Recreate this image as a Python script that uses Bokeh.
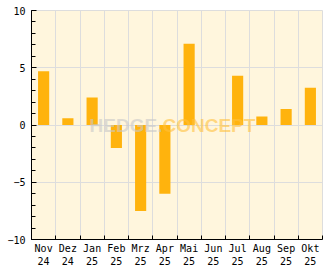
from bokeh.plotting import figure
from bokeh.models import FixedTicker, Range1d, ColumnDataSource
from bokeh.embed import file_html
from bokeh.resources import INLINE
from bokeh.core.properties import value

months = ["Nov\n24", "Dez\n24", "Jan\n25", "Feb\n25", "Mrz\n25", "Apr\n25",
          "Mai\n25", "Jun\n25", "Jul\n25", "Aug\n25", "Sep\n25", "Okt\n25"]
returns = [4.7, 0.6, 2.4, -2.0, -7.5, -6.0, 7.1, 0.0, 4.3, 0.75, 1.4, 3.25]
y_major = [-10, -5, 0, 5, 10]
y_minor = list(range(-10, 11))

n = len(months)
centers = [i + 0.5 for i in range(n)]
bounds = list(range(n + 1))

p = figure(width=332, height=269, output_backend="svg", toolbar_location=None,
           x_range=Range1d(0, n), y_range=Range1d(-10, 10),
           min_border_left=31, min_border_right=10, min_border_top=10, min_border_bottom=0)
p.background_fill_color = "#fff6dd"
p.border_fill_color = "white"
p.outline_line_color = "#dddddd"
p.outline_line_width = 1

src = ColumnDataSource(dict(x=centers, top=returns))
p.vbar(x="x", top="top", bottom=0, width=0.46, source=src, color="#ffb30d", line_color=None)

# watermark
wm_font = value("Liberation Sans")
p.text(x=[5.4], y=[0.0], text=["HEDGE."], text_font=wm_font,
       text_font_style="bold", text_font_size="19px", text_color="#c8c8c8", text_alpha=0.6,
       text_align="right", text_baseline="middle")
p.text(x=[5.4], y=[0.0], text=["CONCEPT"], text_font=wm_font,
       text_font_style="bold", text_font_size="19px", text_color="#ffc13d", text_alpha=0.6,
       text_align="left", text_baseline="middle")

# x axis
p.xaxis.ticker = FixedTicker(ticks=centers, minor_ticks=bounds)
p.xaxis.major_label_overrides = {c: m for c, m in zip(centers, months)}
p.xaxis.major_tick_line_color = None
p.xaxis.major_tick_in = 0
p.xaxis.major_tick_out = 0
p.xaxis.minor_tick_in = 4
p.xaxis.minor_tick_out = 0
p.xaxis.minor_tick_line_color = "black"
p.xaxis.axis_line_color = "black"
p.xaxis.major_label_standoff = 3
p.xgrid.ticker = FixedTicker(ticks=bounds[1:-1])
p.xgrid.grid_line_color = "#dddddd"

# y axis
p.yaxis.ticker = FixedTicker(ticks=y_major, minor_ticks=y_minor)
p.yaxis.major_tick_in = 5
p.yaxis.major_tick_out = 0
p.yaxis.minor_tick_in = 4
p.yaxis.minor_tick_out = 0
p.yaxis.major_label_standoff = 6
p.ygrid.grid_line_color = "#dddddd"

for ax in (p.xaxis, p.yaxis):
    ax.major_label_text_font = "DejaVu Sans Mono"
    ax.major_label_text_font_size = "10px"
    ax.major_label_text_color = "black"
    ax.axis_line_width = 1

open("out.html", "w").write(file_html(p, INLINE))
